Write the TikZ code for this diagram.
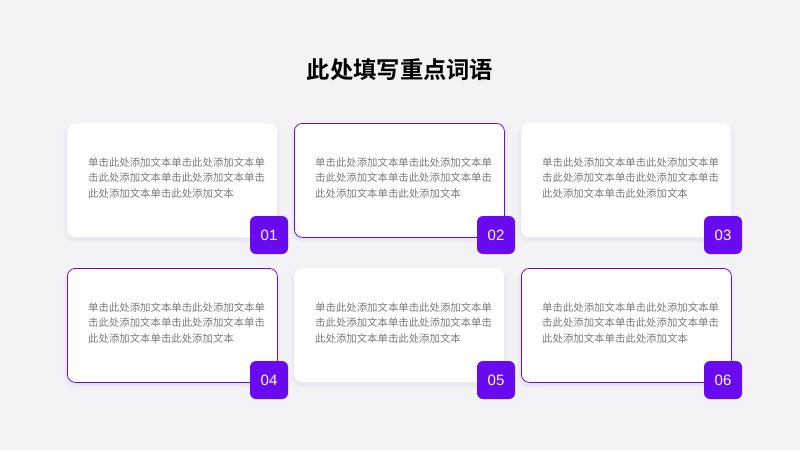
\documentclass[tikz,border=0pt]{standalone}
\usepackage{fontspec}
\setmainfont{Noto Sans CJK SC}
\newfontfamily\titlefont{Noto Sans CJK SC Bold}
\setsansfont{Liberation Sans}
\usetikzlibrary{positioning}
\definecolor{bgcol}{HTML}{F3F3F5}
\definecolor{violet}{HTML}{6A0AF0}
\definecolor{txtcol}{HTML}{7A7A7A}
\tikzset{
  card/.style={fill=white, rounded corners=8pt, minimum width=210pt, minimum height=114pt, anchor=north west, inner sep=0pt},
  cardline/.style={card, draw=violet, line width=0.8pt},
  cardplain/.style={card, draw=none},
  badge/.style={fill=violet, rounded corners=6pt, minimum size=38pt, inner sep=0pt, text=white, font=\sffamily\fontsize{15}{15}\selectfont},
  blurb/.style={text=txtcol, font=\fontsize{10.4}{15.5}\selectfont, align=left, inner sep=0pt, anchor=west}
}
\begin{document}
\begin{tikzpicture}[x=1pt,y=-1pt]
	\fill[bgcol] (0,0) rectangle (800,450);
	\useasboundingbox (0,0) rectangle (800,450);
	\node[font=\titlefont\fontsize{23.3}{23.3}\selectfont] (title) at (400,70) {此处填写重点词语};
	
	\foreach \n/\x/\y/\s in {01/67/123/cardplain, 02/294/123/cardline, 03/521/123/cardplain, 04/67/268/cardline, 05/294/268/cardplain, 06/521/268/cardline}{
		\foreach \k in {1,...,4}
			\fill[violet, opacity=0.012, rounded corners=10pt] ({\x-\k},{\y+4-\k}) rectangle ({\x+210+\k},{\y+116+\k});
		\node[\s] (card\n) at (\x,\y) {};
		\node[blurb] (text\n) at ({\x+21},{\y+55}) {单击此处添加文本单击此处添加文本单\\击此处添加文本单击此处添加文本单击\\此处添加文本单击此处添加文本};
		\node[badge] (badge\n) at ({\x+202},{\y+112}) {\n};
	}
\end{tikzpicture}
\end{document}
